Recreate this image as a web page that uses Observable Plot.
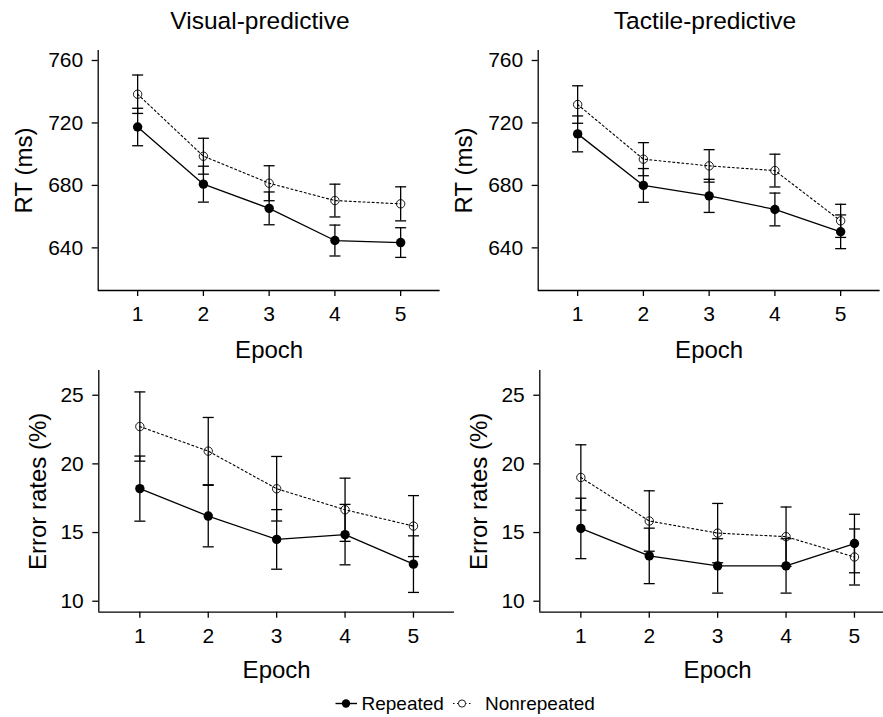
<!DOCTYPE html>
<html>
<head>
<meta charset="utf-8">
<script src="https://cdn.jsdelivr.net/npm/d3@7"></script>
<script src="https://cdn.jsdelivr.net/npm/@observablehq/plot@0.6"></script>
<style>
  html, body { margin: 0; padding: 0; background: #fff; overflow: hidden; }
  #fig { position: relative; width: 883px; height: 717px; overflow: hidden;
         font-family: "Liberation Sans", Arial, sans-serif; color: #000; }
  .panel { position: absolute; }
  .panel svg { max-width: none !important; overflow: visible; background: transparent; }
  #overlay { position: absolute; left: 0; top: 0; }
</style>
</head>
<body>
<div id="fig">
  <svg id="overlay" width="883" height="717" font-family="Liberation Sans, Arial, sans-serif">
    <text x="260" y="28.5" text-anchor="middle" font-size="24.5">Visual-predictive</text>
    <text x="705" y="28.5" text-anchor="middle" font-size="24.5">Tactile-predictive</text>
    <line x1="335.5" x2="357" y1="703.5" y2="703.5" stroke="#000" stroke-width="1.4"/>
    <circle cx="346" cy="703.5" r="4.2" fill="#000"/>
    <text x="361.5" y="710" font-size="19">Repeated</text>
    <line x1="453" x2="472" y1="703.5" y2="703.5" stroke="#000" stroke-width="1" stroke-dasharray="1.5,2.5"/>
    <circle cx="462" cy="703.5" r="3.6" fill="#fff" stroke="#000" stroke-width="0.9"/>
    <text x="485" y="710" font-size="19">Nonrepeated</text>
  </svg>
</div>
<script>
// ---- data ----
const epochs = [1, 2, 3, 4, 5];

// Visual-predictive RT (ms)
const visRTRep   = [717.4, 680.8, 665.3, 644.7, 643.4];
const visRTRepSE = [12.0, 11.5, 10.5, 9.9, 9.5];
const visRTNon   = [738.4, 698.7, 681.4, 670.3, 668.2];
const visRTNonSE = [12.3, 11.5, 11.2, 10.5, 10.9];

// Tactile-predictive RT (ms)
const tacRTRep   = [713.0, 680.0, 673.3, 664.6, 650.3];
const tacRTRepSE = [11.5, 10.8, 10.6, 10.5, 10.8];
const tacRTNon   = [731.8, 696.8, 692.5, 689.5, 657.3];
const tacRTNonSE = [12.0, 10.6, 10.4, 10.5, 10.6];

// Visual-predictive error rates (%)
const visErrRep   = [18.2, 16.2, 14.5, 14.85, 12.7];
const visErrRepSE = [2.37, 2.24, 2.17, 2.2, 2.06];
const visErrNon   = [22.72, 20.93, 18.19, 16.66, 15.47];
const visErrNonSE = [2.52, 2.45, 2.35, 2.3, 2.22];

// Tactile-predictive error rates (%)
const tacErrRep   = [15.3, 13.3, 12.57, 12.57, 14.2];
const tacErrRepSE = [2.2, 2.02, 1.98, 1.98, 2.13];
const tacErrNon   = [19.01, 15.84, 14.96, 14.70, 13.22];
const tacErrNonSE = [2.38, 2.2, 2.16, 2.16, 2.04];

const rtTicks  = [640, 680, 720, 760];
const errTicks = [10, 15, 20, 25];
const xDomain  = [0.4, 5.6];
const rtDomain  = [612.7, 766.4];
const errDomain = [9.2, 26.8];

const groups = ["Repeated", "Nonrepeated"];

// horizontal cap symbol for error bars
const capSymbol = {
  draw(context, size) {
    const w = Math.sqrt(size / Math.PI);
    context.moveTo(-w, 0);
    context.lineTo(w, 0);
  }
};

function rows(means, ses, group) {
  return epochs.map((e, i) => ({epoch: e, mean: means[i], se: ses[i], group}));
}

function panel(cfg) {
  const rep = rows(cfg.rep, cfg.repSE, groups[0]);
  const non = rows(cfg.non, cfg.nonSE, groups[1]);
  const all = rep.concat(non);
  const font = "Liberation Sans, Arial, sans-serif";
  const chart = Plot.plot({
    width: cfg.width,
    height: cfg.height,
    marginLeft: cfg.marginLeft,
    marginRight: cfg.marginRight,
    marginTop: cfg.marginTop,
    marginBottom: cfg.marginBottom,
    style: {fontFamily: font, color: "#000", background: "transparent", overflow: "visible", maxWidth: "none"},
    x: {domain: xDomain},
    y: {domain: cfg.yDomain},
    marks: [
      Plot.ruleY([cfg.yDomain[0]], {stroke: "#000", strokeWidth: 1.3}),
      Plot.ruleX([xDomain[0]], {stroke: "#000", strokeWidth: 1.3}),
      Plot.axisX(epochs, {tickSize: 6, tickPadding: 10, fontSize: 21, strokeWidth: 1.3, label: null, tickFormat: d => String(d)}),
      Plot.axisY(cfg.yTicks, {tickSize: 6, tickPadding: 9, fontSize: 21, strokeWidth: 1.3, label: null, tickFormat: d => String(d)}),
      Plot.text([cfg.yLabel], {text: d => d, frameAnchor: "left", rotate: -90, dx: cfg.yLabelDx,
        textAnchor: "middle", lineAnchor: "middle", fontSize: 24}),
      Plot.text(["Epoch"], {text: d => d, frameAnchor: "bottom", dy: cfg.xLabelDy,
        textAnchor: "middle", lineAnchor: "top", fontSize: 24}),
      Plot.line(rep, {x: "epoch", y: "mean", stroke: "#000", strokeWidth: 1.3}),
      Plot.line(non, {x: "epoch", y: "mean", stroke: "#000", strokeWidth: 1.1, strokeDasharray: "2,2.6"}),
      Plot.ruleX(all, {x: "epoch", y1: d => d.mean - d.se, y2: d => d.mean + d.se, stroke: "#000", strokeWidth: 1.3}),
      Plot.dot(all, {x: "epoch", y: d => d.mean + d.se, symbol: capSymbol, r: 5.5, stroke: "#000", strokeWidth: 1.3, fill: "none"}),
      Plot.dot(all, {x: "epoch", y: d => d.mean - d.se, symbol: capSymbol, r: 5.5, stroke: "#000", strokeWidth: 1.3, fill: "none"}),
      Plot.dot(rep, {x: "epoch", y: "mean", r: 4.7, fill: "#000", stroke: "none"}),
      Plot.dot(non, {x: "epoch", y: "mean", r: 4.2, fill: "none", stroke: "#000", strokeWidth: 0.9})
    ]
  });
  const div = document.createElement("div");
  div.className = "panel";
  div.style.left = cfg.left + "px";
  div.style.top = cfg.top + "px";
  div.style.width = cfg.width + "px";
  div.style.height = cfg.height + "px";
  div.appendChild(chart);
  document.getElementById("fig").appendChild(div);
}

const topCommon = {width: 440, height: 320, marginTop: 10, marginBottom: 70, marginLeft: 97.7, marginRight: 0.4,
  top: 40, yDomain: rtDomain, yTicks: rtTicks, yLabel: "RT (ms)", yLabelDx: -73.7, xLabelDy: 50};
const botCommon = {width: 460, height: 330, marginTop: 10, marginBottom: 78.3,
  top: 360, yDomain: errDomain, yTicks: errTicks, yLabel: "Error rates (%)", xLabelDy: 48.5};

panel({...topCommon, left: 0, rep: visRTRep, repSE: visRTRepSE, non: visRTNon, nonSE: visRTNonSE});
panel({...topCommon, left: 440, rep: tacRTRep, repSE: tacRTRepSE, non: tacRTNon, nonSE: tacRTNonSE});
panel({...botCommon, left: 0, marginLeft: 98.3, marginRight: 6, yLabelDx: -60.8,
  rep: visErrRep, repSE: visErrRepSE, non: visErrNon, nonSE: visErrNonSE});
panel({...botCommon, left: 440, marginLeft: 99.3, marginRight: 5, yLabelDx: -60.8,
  rep: tacErrRep, repSE: tacErrRepSE, non: tacErrNon, nonSE: tacErrNonSE});

// keep overlay (titles, legend) on top
document.getElementById("fig").appendChild(document.getElementById("overlay"));
</script>
</body>
</html>
